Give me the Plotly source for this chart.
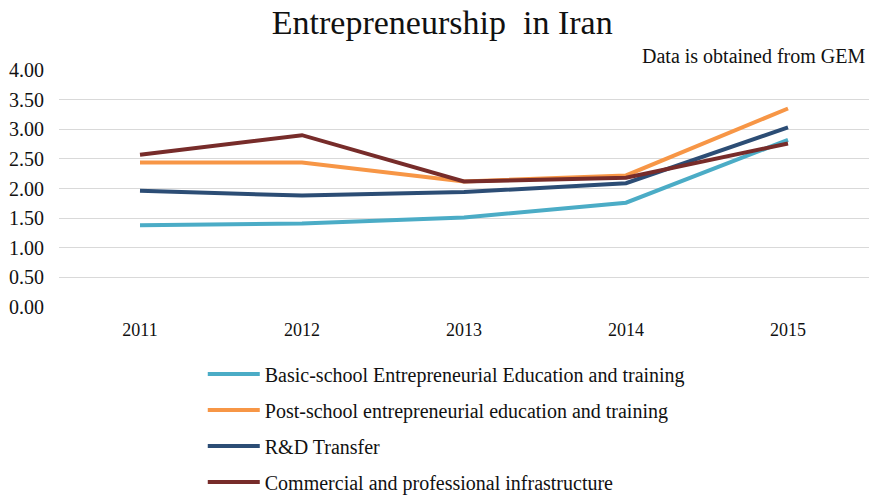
import plotly.graph_objects as go

years = ["2011", "2012", "2013", "2014", "2015"]

basic_school = [1.38, 1.41, 1.51, 1.76, 2.82]
post_school = [2.44, 2.44, 2.12, 2.22, 3.35]
rd_transfer = [1.96, 1.88, 1.94, 2.09, 3.03]
commercial = [2.57, 2.90, 2.12, 2.18, 2.76]

series_names = [
    "Basic-school Entrepreneurial Education and training",
    "Post-school entrepreneurial education and training",
    "R&D Transfer",
    "Commercial and professional infrastructure",
]
series_values = [basic_school, post_school, rd_transfer, commercial]
series_colors = ["#4BACC6", "#F79646", "#2C4D75", "#772C2A"]

y_ticks = [0, 0.5, 1.0, 1.5, 2.0, 2.5, 3.0, 3.5, 4.0]

SERIF = "Liberation Serif, Times New Roman, serif"

fig = go.Figure()
for name, vals, color in zip(series_names, series_values, series_colors):
    fig.add_trace(go.Scatter(
        x=years, y=vals, name=name, mode="lines",
        line=dict(color=color, width=4),
        legendgroup=name,
    ))

fig.update_layout(
    width=874, height=498,
    margin=dict(l=59, r=5, t=70, b=191, autoexpand=False),
    paper_bgcolor="white", plot_bgcolor="white",
    title=dict(
        text="Entrepreneurship  in Iran",
        font=dict(family=SERIF, size=34, color="#111111"),
        x=0.506, xanchor="center", y=0.955, yanchor="middle",
    ),
    showlegend=True,
    legend=dict(
        xref="container", yref="container",
        x=0.232, y=0.288, xanchor="left", yanchor="top",
        font=dict(family=SERIF, size=20, color="#111111"),
        tracegroupgap=7, itemwidth=52,
        bgcolor="rgba(0,0,0,0)",
    ),
    xaxis=dict(
        type="category", range=[-0.5, 4.5],
        showgrid=False, zeroline=False, showline=False,
        ticks="", tickfont=dict(family=SERIF, size=18, color="#111111"),
        ticklabelstandoff=10,
    ),
    yaxis=dict(
        range=[0, 4], tickvals=y_ticks, tickformat=".2f",
        showgrid=True, gridcolor="#D9D9D9", gridwidth=1,
        zeroline=False, showline=False, ticks="",
        tickfont=dict(family=SERIF, size=20, color="#111111"),
        ticklabelstandoff=14,
    ),
    annotations=[dict(
        text="Data is obtained from GEM",
        xref="paper", yref="paper", x=0.997, y=1.0,
        xanchor="right", yanchor="bottom", yshift=1, showarrow=False,
        font=dict(family=SERIF, size=20, color="#111111"),
    )],
)

fig.write_html("out.html")
